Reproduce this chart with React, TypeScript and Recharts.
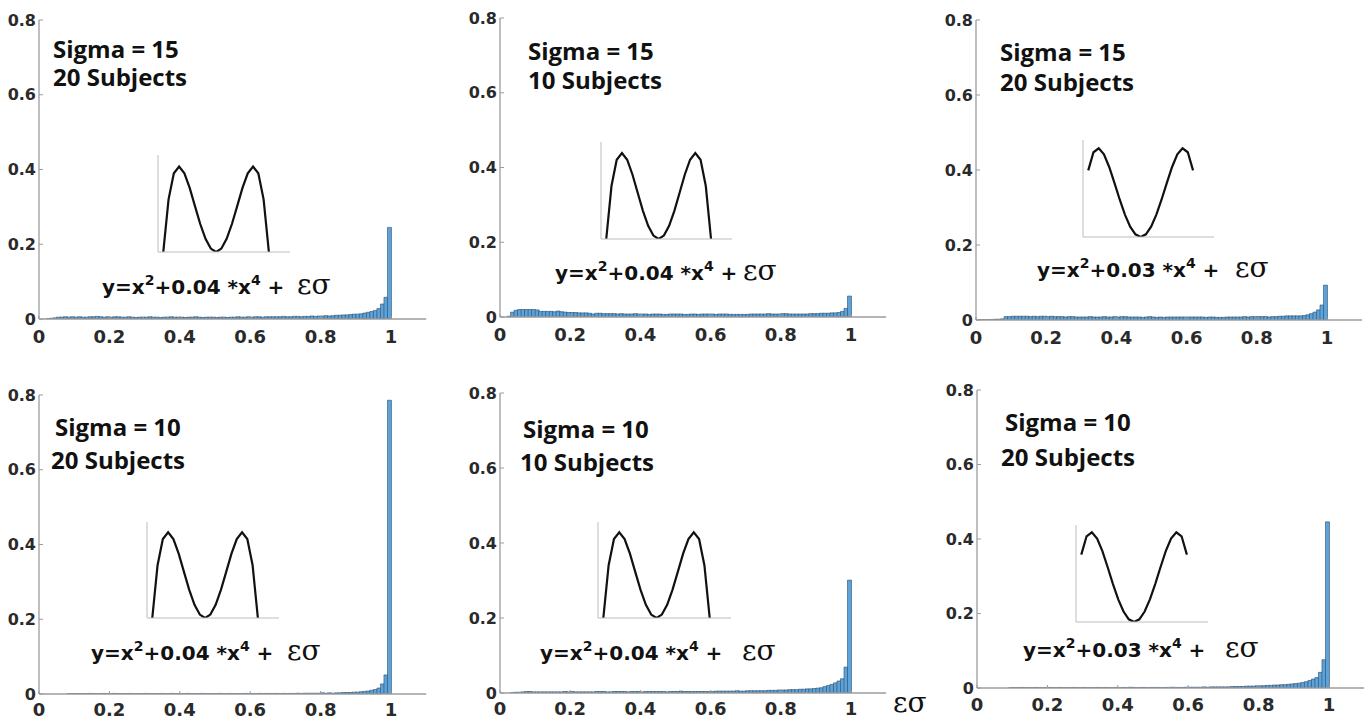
import React from 'react';
import { BarChart, Bar, LineChart, Line, XAxis, YAxis } from 'recharts';

// ---------- data ----------
const BIN_WIDTH = 0.01;

const histS15N20a = [
  0, 0, 0.001, 0.002, 0.003, 0.005, 0.005, 0.006, 0.005, 0.006,
  0.005, 0.006, 0.005, 0.005, 0.006, 0.006, 0.007, 0.006, 0.005, 0.006,
  0.005, 0.006, 0.006, 0.005, 0.005, 0.006, 0.005, 0.004, 0.005, 0.005,
  0.005, 0.006, 0.005, 0.005, 0.004, 0.005, 0.005, 0.006, 0.005, 0.005,
  0.005, 0.004, 0.005, 0.005, 0.006, 0.005, 0.004, 0.005, 0.005, 0.005,
  0.004, 0.005, 0.005, 0.004, 0.005, 0.005, 0.006, 0.005, 0.005, 0.006,
  0.005, 0.006, 0.006, 0.005, 0.006, 0.006, 0.006, 0.006, 0.006, 0.007,
  0.006, 0.006, 0.007, 0.007, 0.006, 0.007, 0.007, 0.008, 0.007, 0.008,
  0.008, 0.009, 0.008, 0.009, 0.010, 0.010, 0.011, 0.011, 0.012, 0.013,
  0.013, 0.014, 0.016, 0.018, 0.020, 0.023, 0.028, 0.040, 0.058, 0.245,
];

const histS15N10 = [
  0, 0, 0.002, 0.013, 0.018, 0.020, 0.020, 0.020, 0.020, 0.020,
  0.019, 0.015, 0.015, 0.015, 0.015, 0.014, 0.016, 0.014, 0.013, 0.012,
  0.012, 0.012, 0.011, 0.011, 0.011, 0.010, 0.008, 0.010, 0.010, 0.009,
  0.009, 0.009, 0.009, 0.008, 0.009, 0.008, 0.008, 0.008, 0.009, 0.008,
  0.008, 0.008, 0.007, 0.008, 0.008, 0.008, 0.007, 0.007, 0.008, 0.008,
  0.008, 0.008, 0.007, 0.007, 0.008, 0.008, 0.007, 0.008, 0.008, 0.008,
  0.008, 0.007, 0.008, 0.008, 0.008, 0.007, 0.007, 0.007, 0.007, 0.007,
  0.007, 0.008, 0.008, 0.008, 0.008, 0.008, 0.009, 0.008, 0.008, 0.008,
  0.009, 0.009, 0.008, 0.008, 0.008, 0.008, 0.008, 0.008, 0.009, 0.009,
  0.009, 0.010, 0.010, 0.010, 0.011, 0.011, 0.012, 0.015, 0.023, 0.056,
];

const histS15N20b = [
  0.0005, 0.0005, 0.0005, 0.001, 0.001, 0.002, 0.002, 0.003, 0.009, 0.009,
  0.010, 0.010, 0.010, 0.010, 0.010, 0.009, 0.010, 0.009, 0.010, 0.010,
  0.009, 0.010, 0.009, 0.009, 0.009, 0.008, 0.009, 0.009, 0.008, 0.008,
  0.008, 0.008, 0.009, 0.008, 0.008, 0.008, 0.009, 0.008, 0.008, 0.009,
  0.008, 0.009, 0.009, 0.008, 0.008, 0.008, 0.008, 0.007, 0.008, 0.009,
  0.008, 0.007, 0.008, 0.007, 0.008, 0.008, 0.008, 0.008, 0.008, 0.008,
  0.008, 0.008, 0.008, 0.008, 0.008, 0.007, 0.008, 0.008, 0.007, 0.007,
  0.007, 0.008, 0.008, 0.008, 0.008, 0.008, 0.009, 0.008, 0.009, 0.009,
  0.009, 0.009, 0.009, 0.008, 0.009, 0.009, 0.010, 0.010, 0.011, 0.011,
  0.011, 0.011, 0.011, 0.012, 0.014, 0.017, 0.021, 0.027, 0.040, 0.093,
];

const histS10N20a = [
  0, 0, 0, 0, 0, 0, 0, 0, 0.001, 0.001,
  0.001, 0.001, 0.001, 0.001, 0.0015, 0.001, 0.001, 0.001, 0.0015, 0.001,
  0.001, 0.0015, 0.001, 0.001, 0.001, 0.0015, 0.001, 0.001, 0.001, 0.001,
  0.0015, 0.001, 0.001, 0.001, 0.0015, 0.001, 0.001, 0.0015, 0.001, 0.001,
  0.001, 0.001, 0.0015, 0.001, 0.001, 0.001, 0.0015, 0.001, 0.001, 0.001,
  0.001, 0.0015, 0.001, 0.001, 0.0015, 0.001, 0.001, 0.001, 0.0015, 0.001,
  0.001, 0.001, 0.0015, 0.001, 0.0015, 0.001, 0.0015, 0.0015, 0.001, 0.0015,
  0.001, 0.0015, 0.0015, 0.002, 0.0015, 0.002, 0.002, 0.002, 0.002, 0.002,
  0.003, 0.002, 0.003, 0.002, 0.003, 0.003, 0.004, 0.004, 0.004, 0.005,
  0.005, 0.006, 0.007, 0.008, 0.010, 0.012, 0.016, 0.027, 0.051, 0.786,
];

const histS10N10 = [
  0, 0, 0, 0.001, 0.002, 0.002, 0.003, 0.004, 0.004, 0.003,
  0.003, 0.003, 0.003, 0.003, 0.003, 0.003, 0.003, 0.003, 0.004, 0.003,
  0.004, 0.003, 0.003, 0.003, 0.003, 0.003, 0.003, 0.004, 0.004, 0.004,
  0.003, 0.003, 0.004, 0.004, 0.004, 0.004, 0.003, 0.004, 0.004, 0.004,
  0.003, 0.004, 0.004, 0.004, 0.004, 0.004, 0.004, 0.003, 0.004, 0.004,
  0.004, 0.005, 0.004, 0.004, 0.004, 0.004, 0.004, 0.004, 0.004, 0.004,
  0.004, 0.005, 0.005, 0.005, 0.005, 0.005, 0.005, 0.006, 0.005, 0.005,
  0.006, 0.006, 0.006, 0.006, 0.006, 0.006, 0.007, 0.007, 0.007, 0.008,
  0.008, 0.008, 0.009, 0.009, 0.009, 0.010, 0.010, 0.011, 0.011, 0.012,
  0.013, 0.014, 0.017, 0.020, 0.023, 0.027, 0.032, 0.038, 0.069, 0.301,
];

const histS10N20b = [
  0, 0, 0, 0, 0, 0, 0, 0, 0, 0.001,
  0.001, 0.001, 0.0015, 0.001, 0.001, 0.001, 0.0015, 0.001, 0.001, 0.001,
  0.0015, 0.001, 0.001, 0.0015, 0.001, 0.001, 0.001, 0.0015, 0.001, 0.001,
  0.0015, 0.001, 0.001, 0.001, 0.0015, 0.001, 0.0015, 0.001, 0.001, 0.0015,
  0.001, 0.0015, 0.001, 0.002, 0.0015, 0.001, 0.0015, 0.0015, 0.001, 0.0015,
  0.0015, 0.0015, 0.001, 0.0015, 0.0015, 0.002, 0.0015, 0.0015, 0.0015, 0.002,
  0.002, 0.002, 0.002, 0.002, 0.003, 0.002, 0.003, 0.003, 0.003, 0.003,
  0.003, 0.003, 0.004, 0.004, 0.004, 0.004, 0.005, 0.005, 0.005, 0.006,
  0.006, 0.006, 0.007, 0.007, 0.008, 0.008, 0.009, 0.009, 0.010, 0.011,
  0.012, 0.013, 0.015, 0.017, 0.020, 0.024, 0.028, 0.042, 0.076, 0.446,
];

const xTicks = [0, 0.2, 0.4, 0.6, 0.8, 1];
const yTicks = [0, 0.2, 0.4, 0.6, 0.8];

// inset curves
const insetX = [-5, -4.5, -4, -3.5, -3, -2.5, -2, -1.5, -1, -0.5, 0, 0.5, 1, 1.5, 2, 2.5, 3, 3.5, 4, 4.5, 5];
const insetCurve004 = [0, 3.85, 5.76, 6.25, 5.76, 4.69, 3.36, 2.05, 0.96, 0.25, 0, 0.25, 0.96, 2.05, 3.36, 4.69, 5.76, 6.25, 5.76, 3.85, 0];
const insetCurve003 = [6.25, 7.95, 8.32, 7.75, 6.57, 5.08, 3.52, 2.1, 0.97, 0.25, 0, 0.25, 0.97, 2.1, 3.52, 5.08, 6.57, 7.75, 8.32, 7.95, 6.25];
const insetXTicks = [-2.5, 0, 2.5, 5];
const insetYTicks = [2, 4, 6, 8];

const sigmaLabels = ['Sigma = 15', 'Sigma = 15', 'Sigma = 15', 'Sigma = 10', 'Sigma = 10', 'Sigma = 10'];
const subjectLabels = ['20 Subjects', '10 Subjects', '20 Subjects', '20 Subjects', '10 Subjects', '20 Subjects'];
const quarticCoefs = ['0.04', '0.04', '0.03', '0.04', '0.04', '0.03'];
const noiseLabel = 'εσ';

const histograms = [histS15N20a, histS15N10, histS15N20b, histS10N20a, histS10N10, histS10N20b];
const insetCurves = [insetCurve004, insetCurve004, insetCurve003, insetCurve004, insetCurve004, insetCurve003];

// ---------- layout (pixels) ----------
const layout = [
  { ax: 39, a1: 391, top: 20, base: 319, tm: 14, inL: 158, inT: 155, inB: 252, inR: 290, inMax: 7.1, sx: 53, sy: 58, nx: 53, ny: 86, fx: 102, fy: 294, ex: 297 },
  { ax: 500, a1: 851, top: 18, base: 317, tm: 14, inL: 601, inT: 142, inB: 239, inR: 732, inMax: 7.05, sx: 528, sy: 60, nx: 528, ny: 89, fx: 555, fy: 280, ex: 743 },
  { ax: 976, a1: 1327, top: 20, base: 320, tm: 14, inL: 1083, inT: 140, inB: 237, inR: 1214, inMax: 9.1, sx: 1000, sy: 61, nx: 1000, ny: 91, fx: 1037, fy: 277, ex: 1235 },
  { ax: 39, a1: 391, top: 395, base: 694, tm: 12, inL: 147, inT: 522, inB: 618, inR: 279, inMax: 7.0, sx: 55, sy: 436, nx: 51, ny: 469, fx: 91, fy: 660, ex: 287 },
  { ax: 500, a1: 851, top: 393, base: 693, tm: 12, inL: 598, inT: 522, inB: 618, inR: 731, inMax: 7.0, sx: 523, sy: 438, nx: 520, ny: 471, fx: 540, fy: 660, ex: 742 },
  { ax: 977, a1: 1329, top: 390, base: 688, tm: 13, inL: 1076, inT: 525, inB: 622, inR: 1208, inMax: 9.0, sx: 1005, sy: 431, nx: 1001, ny: 466, fx: 1023, fy: 657, ex: 1225 },
];

const AXIS_GRAY = '#9c9c9c';
const TICK_FONT = { fontFamily: 'DejaVu Sans', fontWeight: 700, fill: '#2a2a2a' };

type L = (typeof layout)[number];

function Histogram({ p, values }: { p: L; values: number[] }) {
  const YW = 44;
  const MT = 10;
  const MR = 6;
  const XH = 32;
  const plotW = (p.a1 - p.ax) * 1.1;
  const plotH = p.base - p.top;
  const rows = values.map((v, i) => ({ x: (i + 0.5) * BIN_WIDTH, v }));
  return (
    <div style={{ position: 'absolute', left: p.ax - YW, top: p.top - MT }}>
      <BarChart
        width={YW + plotW + MR}
        height={MT + plotH + XH}
        data={rows}
        margin={{ top: MT, right: MR, bottom: 0, left: 0 }}
        barCategoryGap={0}
        barGap={0}
      >
        <XAxis
          dataKey="x"
          type="number"
          domain={[0, 1.1]}
          ticks={xTicks}
          interval={0}
          height={XH}
          allowDataOverflow
          axisLine={{ stroke: AXIS_GRAY, strokeWidth: 1.3 }}
          tickLine={{ stroke: AXIS_GRAY }}
          tickSize={-3}
          tickMargin={p.tm}
          tick={{ ...TICK_FONT, fontSize: 18 }}
        />
        <YAxis
          type="number"
          domain={[0, 0.8]}
          ticks={yTicks}
          interval={0}
          width={YW}
          allowDataOverflow
          axisLine={{ stroke: AXIS_GRAY, strokeWidth: 1.3 }}
          tickLine={{ stroke: AXIS_GRAY }}
          tickSize={-4}
          tickMargin={7}
          tick={{ ...TICK_FONT, fontSize: 16 }}
        />
        <Bar dataKey="v" fill="#5ea3d8" stroke="#2a4d6e" strokeWidth={0.6} isAnimationActive={false} />
      </BarChart>
    </div>
  );
}

function Inset({ p, curve }: { p: L; curve: number[] }) {
  const M = 4;
  const w = p.inR - p.inL;
  const h = p.inB - p.inT;
  const rows = insetX.map((x, i) => ({ x, y: curve[i] }));
  return (
    <div style={{ position: 'absolute', left: p.inL - M, top: p.inT - M }}>
      <LineChart width={w + 2 * M} height={h + 2 * M} data={rows} margin={{ top: M, right: M, bottom: M - 2, left: M - 2 }}>
        <XAxis
          dataKey="x"
          type="number"
          domain={[-5.5, 7]}
          ticks={insetXTicks}
          height={2}
          tick={false}
          tickSize={-2}
          allowDataOverflow
          axisLine={{ stroke: '#bdbdbd', strokeWidth: 1 }}
          tickLine={{ stroke: '#bdbdbd' }}
        />
        <YAxis
          type="number"
          domain={[0, p.inMax]}
          ticks={insetYTicks.filter((t) => t < p.inMax)}
          width={2}
          tick={false}
          tickSize={-2}
          allowDataOverflow
          axisLine={{ stroke: '#bdbdbd', strokeWidth: 1 }}
          tickLine={{ stroke: '#bdbdbd' }}
        />
        <Line type="linear" dataKey="y" stroke="#111" strokeWidth={2.2} dot={false} isAnimationActive={false} />
      </LineChart>
    </div>
  );
}

export default function App() {
  return (
    <div style={{ position: 'absolute', left: 0, top: 0, width: 1365, height: 718, background: '#fff', overflow: 'hidden' }}>
      {layout.map((p, i) => (
        <Histogram key={`h${i}`} p={p} values={histograms[i]} />
      ))}
      {layout.map((p, i) => (
        <Inset key={`in${i}`} p={p} curve={insetCurves[i]} />
      ))}
      <svg width={1365} height={718} style={{ position: 'absolute', left: 0, top: 0, pointerEvents: 'none' }}>
        {layout.map((p, i) => (
          <g key={`t${i}`}>
            <text x={p.sx} y={p.sy} fontFamily="Open Sans" fontWeight={700} fontSize={24} fill="#111">
              {sigmaLabels[i]}
            </text>
            <text x={p.nx} y={p.ny} fontFamily="Open Sans" fontWeight={700} fontSize={24} fill="#111">
              {subjectLabels[i]}
            </text>
            <text x={p.fx} y={p.fy} fontFamily="DejaVu Sans" fontWeight={700} fontSize={20} fill="#111" style={{ whiteSpace: 'pre' }}>
              y=x
              <tspan dy={-9} fontSize={14}>2</tspan>
              <tspan dy={9}>{`+${quarticCoefs[i]} *x`}</tspan>
              <tspan dy={-9} fontSize={14}>4</tspan>
              <tspan dy={9}>{' +'}</tspan>
            </text>
            <text x={p.ex} y={p.fy} fontFamily="DejaVu Serif" fontSize={28} fill="#111">
              {noiseLabel}
            </text>
          </g>
        ))}
        <text x={893} y={712} fontFamily="DejaVu Serif" fontSize={28} fill="#111">
          {noiseLabel}
        </text>
      </svg>
    </div>
  );
}
